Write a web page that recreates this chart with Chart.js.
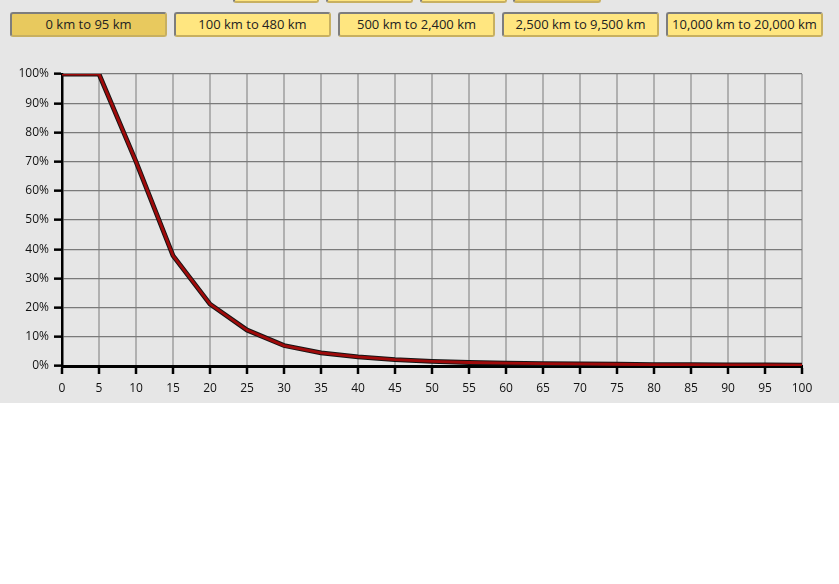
<!DOCTYPE html>
<html>
<head>
<meta charset="utf-8">
<script src="https://cdn.jsdelivr.net/npm/chart.js@4"></script>
<style>
  html,body{margin:0;padding:0;background:#fff;width:839px;height:584px;overflow:hidden;}
  #panel{position:absolute;left:0;top:0;width:839px;height:403px;background:#e6e6e6;}
  .btn{position:absolute;box-sizing:border-box;height:25px;border-radius:3px;
       border:2px solid;border-color:#7d7d7d #c8b060 #c8b060 #7d7d7d;
       background:#ffe680;font-family:"Open Sans",sans-serif;font-size:13px;color:#222;
       text-align:center;line-height:21px;white-space:nowrap;}
  .sel{background:#e8c95e;}
  #cv{position:absolute;left:0;top:60px;}
</style>
</head>
<body>
<div id="panel">
  <div id="btns"></div>
  <canvas id="cv" width="839" height="343"></canvas>
</div>
<script>
const rangeLabels = ["0 km to 95 km","100 km to 480 km","500 km to 2,400 km","2,500 km to 9,500 km","10,000 km to 20,000 km"];
const distances = [0,5,10,15,20,25,30,35,40,45,50,55,60,65,70,75,80,85,90,95,100];
const percentages = [100,100,70,37.8,21.2,12.3,7.0,4.5,3.1,2.2,1.6,1.2,1.0,0.8,0.7,0.6,0.5,0.45,0.4,0.35,0.3];
const yTicks = [0,10,20,30,40,50,60,70,80,90,100];

// buttons
const btnBox = document.getElementById('btns');
const topRow = [[233,86],[326,87],[420,87],[513,88]];
topRow.forEach((b,i)=>{
  const d=document.createElement('div');
  d.className='btn'+(i===3?' sel':'');
  d.style.left=b[0]+'px';d.style.top='-22px';d.style.width=b[1]+'px';
  btnBox.appendChild(d);
});
const bx=[10,174,338,502,666];
rangeLabels.forEach((t,i)=>{
  const d=document.createElement('div');
  d.className='btn'+(i===0?' sel':'');
  d.style.left=bx[i]+'px';d.style.top='12px';d.style.width='157px';
  d.textContent=t;
  btnBox.appendChild(d);
});

const pts = distances.map((x,i)=>({x:x,y:percentages[i]}));
const tickFont = {family:"'Open Sans', sans-serif", size:12};
new Chart(document.getElementById('cv'),{
  type:'line',
  data:{datasets:[
    {data:pts,borderColor:'#a00a0a',borderWidth:2.8,pointRadius:0,tension:0,order:0},
    {data:pts,borderColor:'#151515',borderWidth:4.8,pointRadius:0,tension:0,order:1}
  ]},
  options:{
    responsive:false,animation:false,
    layout:{padding:{top:14,right:37,left:0,bottom:0}},
    plugins:{legend:{display:false},tooltip:{enabled:false}},
    scales:{
      x:{type:'linear',min:0,max:100,
        afterFit:s=>{s.height=37;},
        afterBuildTicks:s=>{s.ticks=distances.map(v=>({value:v}));},
        ticks:{font:tickFont,color:'#111',padding:7,maxRotation:0,autoSkip:false},
        grid:{color:'#b0b0b0',lineWidth:2,tickColor:'#000',tickLength:8,tickWidth:2.5},
        border:{color:'#000',width:3}
      },
      y:{type:'linear',min:0,max:100,
        afterFit:s=>{s.width=62;},
        afterBuildTicks:s=>{s.ticks=yTicks.map(v=>({value:v}));},
        ticks:{font:tickFont,color:'#111',padding:5,callback:v=>v+'%'},
        grid:{color:'#7a7a7a',lineWidth:1.3,tickColor:'#000',tickLength:8,tickWidth:2.5},
        border:{color:'#000',width:2.5}
      }
    }
  }
});
</script>
</body>
</html>
